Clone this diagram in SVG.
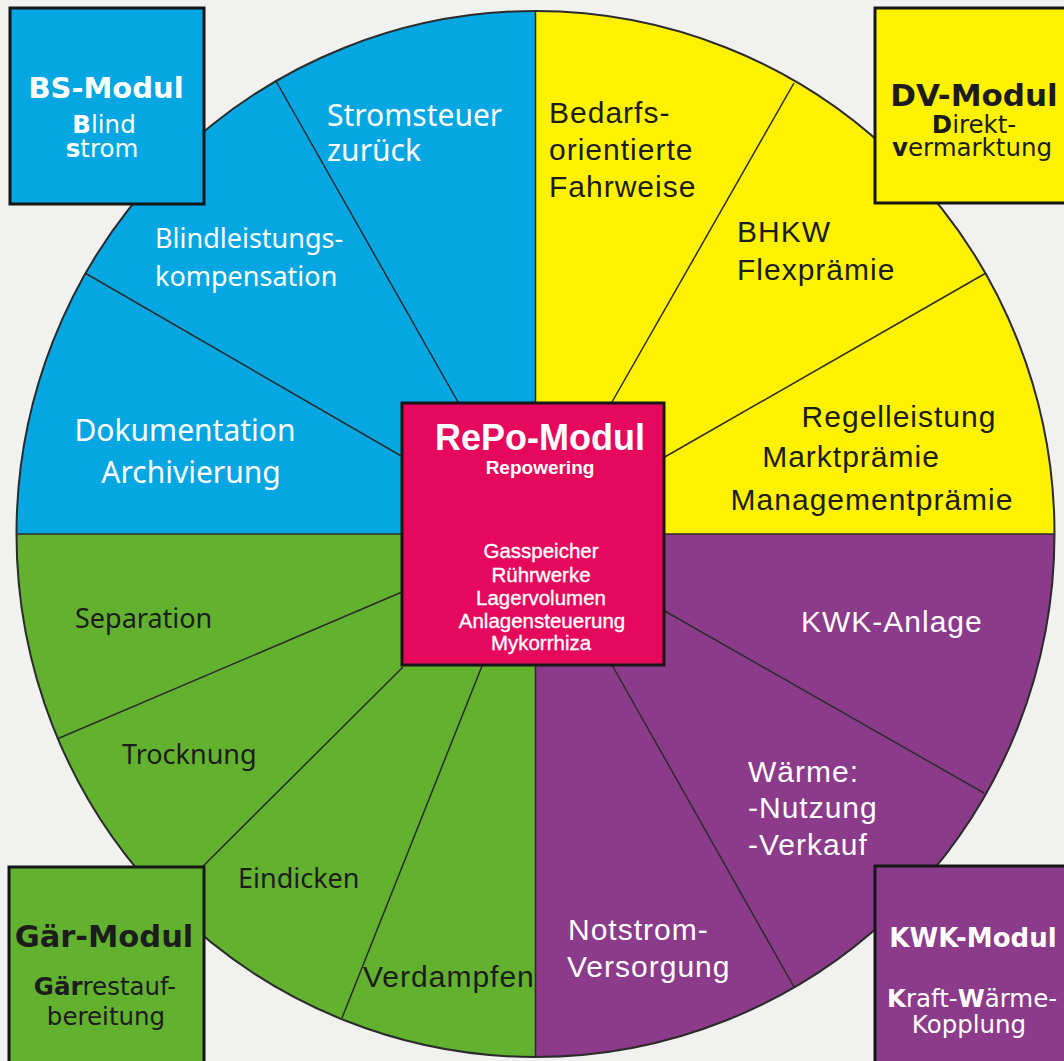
<svg xmlns="http://www.w3.org/2000/svg" width="1064" height="1061" viewBox="0 0 1064 1061">
<defs>
<style>
.bg{fill:#f1f1f0}
.q{stroke:none}
.outline{fill:none;stroke:#2b2b2b;stroke-width:2}
.ray{stroke:#2b2b2b;stroke-width:1.5;fill:none}
.box{stroke:#161616;stroke-width:3}
.u{font-family:"Liberation Sans",Arial,sans-serif;font-size:30px;letter-spacing:1px}
.f{font-family:"Noto Sans","Open Sans",sans-serif;font-size:27px}
.t{font-family:"DejaVu Sans",sans-serif;font-weight:bold}
.s{font-family:"DejaVu Sans",sans-serif;font-size:24.5px}
.w{fill:#ffffff}
.d{fill:#1c1c1c}
.c{text-anchor:middle}
.b{font-weight:bold}
.li{font-size:20.5px;stroke:#ffffff;stroke-width:0.35}
</style>
</defs>
<rect class="bg" x="0" y="0" width="1064" height="1061"/>

<g id="circle">
<path class="q" fill="#05a7e2" d="M535.5,534 L535.5,11 A519,523 0 0,0 16.5,534 Z"/>
<path class="q" fill="#fff200" d="M535.5,534 L535.5,11 A519,523 0 0,1 1054.5,534 Z"/>
<path class="q" fill="#8b3b89" d="M535.5,534 L1054.5,534 A519,523 0 0,1 535.5,1057 Z"/>
<path class="q" fill="#62b12f" d="M535.5,534 L535.5,1057 A519,523 0 0,1 16.5,534 Z"/>
<ellipse class="outline" cx="535.5" cy="534" rx="519" ry="523"/>
</g>

<g id="connectors">
<line class="ray" x1="535.5" y1="11" x2="535.5" y2="1057"/>
<line class="ray" x1="16.5" y1="534" x2="1054.5" y2="534"/>
<line class="ray" x1="458" y1="402" x2="276" y2="81"/>
<line class="ray" x1="403" y1="457" x2="85" y2="273"/>
<line class="ray" x1="612" y1="402" x2="794" y2="83"/>
<line class="ray" x1="663" y1="458" x2="986" y2="273"/>
<line class="ray" x1="663" y1="610" x2="984" y2="793"/>
<line class="ray" x1="612" y1="665" x2="794" y2="987"/>
<line class="ray" x1="402" y1="592" x2="57" y2="739"/>
<line class="ray" x1="403" y1="667" x2="167" y2="902"/>
<line class="ray" x1="482" y1="666" x2="342" y2="1018"/>
</g>

<g id="segment-labels">
<g id="seg-stromsteuer" class="w">
<text class="f" style="font-size:30px" x="327" y="126">Stromsteuer</text>
<text class="f" style="font-size:30px" x="327" y="161">zurück</text>
</g>
<g id="seg-blindleistung" class="w">
<text class="f" x="155" y="248">Blindleistungs-</text>
<text class="f" x="155" y="286">kompensation</text>
</g>
<g id="seg-dokumentation" class="w">
<text class="f c" style="font-size:30px" x="185" y="441">Dokumentation</text>
<text class="f c" style="font-size:30px" x="191" y="483">Archivierung</text>
</g>
<g id="seg-bedarf" class="d">
<text class="u" x="549" y="123">Bedarfs-</text>
<text class="u" x="549" y="160">orientierte</text>
<text class="u" x="549" y="197">Fahrweise</text>
</g>
<g id="seg-bhkw" class="d">
<text class="u" x="737" y="242">BHKW</text>
<text class="u" x="737" y="280">Flexprämie</text>
</g>
<g id="seg-regel" class="d">
<text class="u c" x="899" y="427">Regelleistung</text>
<text class="u c" x="851" y="467">Marktprämie</text>
<text class="u c" x="872" y="510">Managementprämie</text>
</g>
<g id="seg-kwk-anlage" class="w">
<text class="u" x="801" y="632">KWK-Anlage</text>
</g>
<g id="seg-waerme" class="w">
<text class="u" x="748" y="782">Wärme:</text>
<text class="u" x="748" y="818">-Nutzung</text>
<text class="u" x="748" y="855">-Verkauf</text>
</g>
<g id="seg-notstrom" class="w">
<text class="u" x="568" y="940">Notstrom-</text>
<text class="u" x="567" y="977">Versorgung</text>
</g>
<g id="seg-separation" class="d"><text class="f" x="75" y="628">Separation</text></g>
<g id="seg-trocknung" class="d"><text class="f" x="122" y="764">Trocknung</text></g>
<g id="seg-eindicken" class="d"><text class="f" x="238" y="888">Eindicken</text></g>
<g id="seg-verdampfen" class="d"><text class="u" x="363" y="987">Verdampfen</text></g>
</g>

<g id="repo-modul">
<rect class="box" x="402" y="403" width="262" height="262" fill="#e6085c"/>
<g class="w" font-family="'Liberation Sans',Arial,sans-serif" text-anchor="middle">
<text x="540" y="450" font-size="36" font-weight="bold">RePo-Modul</text>
<text x="540" y="474" font-size="19" font-weight="bold">Repowering</text>
<text class="li" x="541" y="558">Gasspeicher</text>
<text class="li" x="541" y="582">Rührwerke</text>
<text class="li" x="541" y="605">Lagervolumen</text>
<text class="li" x="542" y="628">Anlagensteuerung</text>
<text class="li" x="541" y="650">Mykorrhiza</text>
</g>
</g>

<g id="bs-modul">
<rect class="box" x="10" y="8" width="194" height="196" fill="#05a7e2"/>
<text class="t w c" x="106" y="98" font-size="29">BS-Modul</text>
<text class="s w c" x="104" y="133"><tspan class="b">B</tspan>lind</text>
<text class="s w c" x="102" y="157"><tspan class="b">s</tspan>trom</text>
</g>

<g id="dv-modul">
<rect class="box" x="875" y="8" width="200" height="195" fill="#fff200"/>
<text class="t d c" x="974" y="106" font-size="31">DV-Modul</text>
<text class="s d c" x="974" y="133"><tspan class="b">D</tspan>irekt-</text>
<text class="s d c" x="972" y="156"><tspan class="b">v</tspan>ermarktung</text>
</g>

<g id="gaer-modul">
<rect class="box" x="9" y="867" width="195" height="200" fill="#62b12f"/>
<text class="t d c" x="104" y="947" font-size="30.5">Gär-Modul</text>
<text class="s d c" x="105" y="995"><tspan class="b">Gär</tspan>restauf-</text>
<text class="s d c" x="106" y="1025">bereitung</text>
</g>

<g id="kwk-modul">
<rect class="box" x="875" y="866" width="200" height="200" fill="#8b3b89"/>
<text class="t w c" x="973" y="947" font-size="26">KWK-Modul</text>
<text class="s w c" x="972" y="1007"><tspan class="b">K</tspan>raft-<tspan class="b">W</tspan>ärme-</text>
<text class="s w c" x="969" y="1033">Kopplung</text>
</g>
</svg>
